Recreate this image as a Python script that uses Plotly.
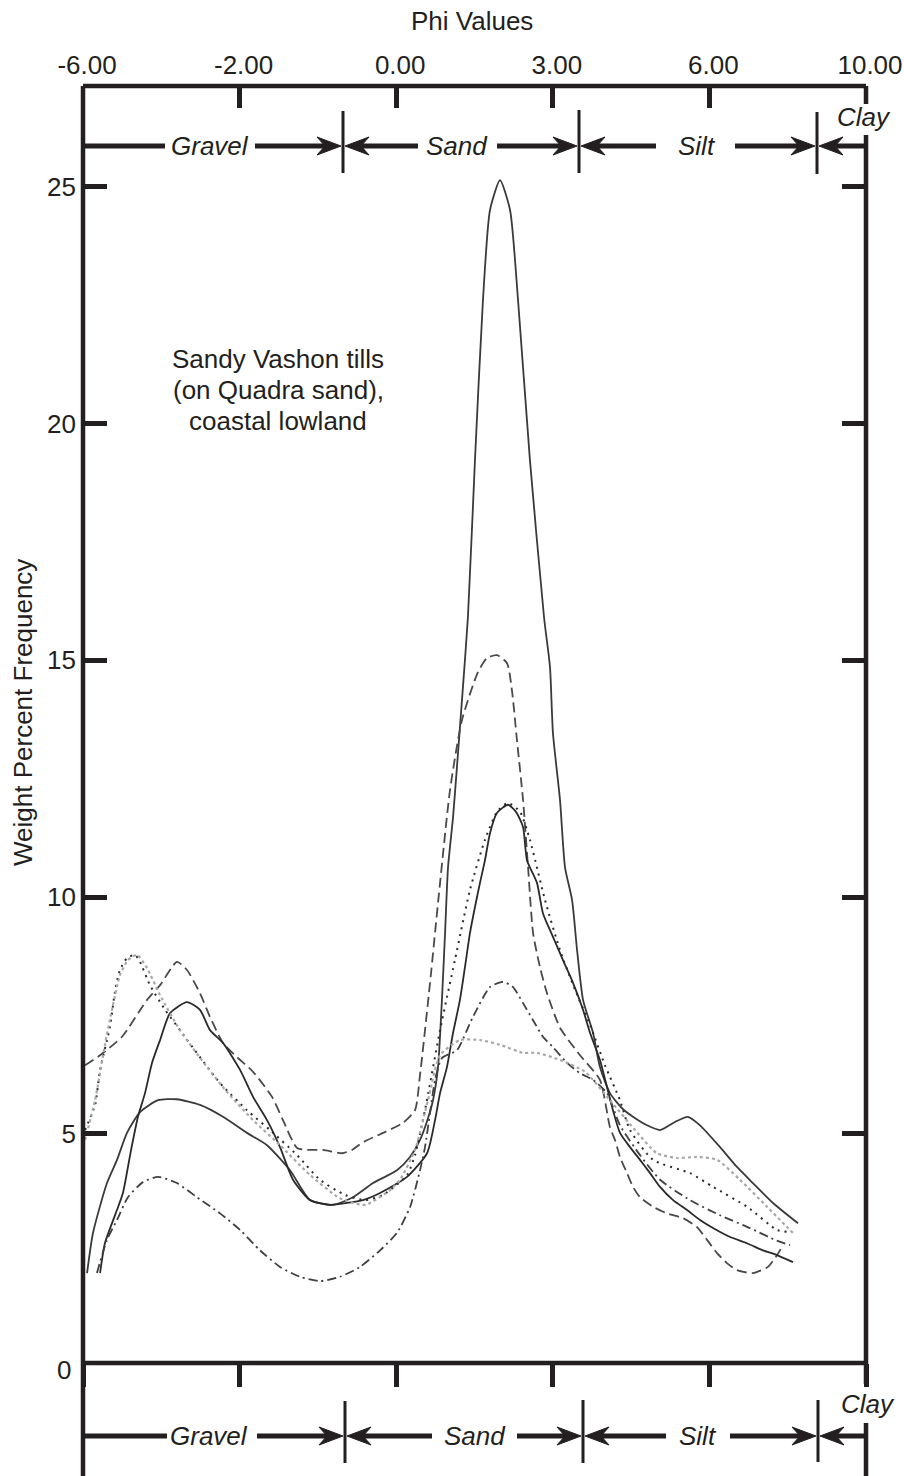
import plotly.graph_objects as go

# ---------------- data ----------------
phi_positions = [0, 1, 2, 3, 4, 5]
phi_labels = ["-6.00", "-2.00", "0.00", "3.00", "6.00", "10.00"]
freq_ticks = [5, 10, 15, 20, 25]
freq_labels = ["5", "10", "15", "20", "25"]

# x = position along the phi axis (one unit per labelled tick interval), y = weight percent
c1_x = [0.026, 0.064, 0.153, 0.217, 0.281, 0.364, 0.479, 0.600, 0.747, 0.894,
        1.047, 1.175, 1.322, 1.450, 1.596, 1.724, 1.852, 2.005, 2.088, 2.152,
        2.203, 2.235, 2.267, 2.292, 2.312, 2.331, 2.363, 2.388, 2.420, 2.458,
        2.503, 2.554, 2.599, 2.663, 2.727, 2.778, 2.854, 2.944, 2.982, 3.001,
        3.046, 3.078, 3.123, 3.155, 3.193, 3.257, 3.301, 3.365, 3.442, 3.512,
        3.602, 3.685, 3.780, 3.863, 3.940, 4.068, 4.176, 4.278, 4.406, 4.566]
c1_y = [2.06, 2.91, 3.96, 4.45, 5.02, 5.46, 5.71, 5.73, 5.61, 5.36,
        5.02, 4.76, 4.23, 3.60, 3.50, 3.66, 3.96, 4.23, 4.51, 4.87,
        5.33, 5.71, 6.41, 7.83, 9.24, 10.63, 11.69, 12.75, 14.16, 15.91,
        19.23, 22.61, 24.51, 25.14, 24.51, 22.61, 19.23, 15.91, 14.86, 13.46,
        12.05, 10.63, 9.94, 8.88, 7.83, 7.13, 6.41, 5.86, 5.54, 5.36,
        5.18, 5.08, 5.25, 5.36, 5.18, 4.72, 4.30, 3.96, 3.54, 3.11]

c2_x = [0.013, 0.109, 0.249, 0.409, 0.492, 0.600, 0.664, 0.747, 0.811, 0.894,
        0.983, 1.086, 1.207, 1.277, 1.367, 1.450, 1.533, 1.654, 1.718, 1.782,
        1.916, 2.043, 2.120, 2.152, 2.216, 2.280, 2.344, 2.420, 2.522, 2.580,
        2.644, 2.708, 2.739, 2.771, 2.810, 2.842, 2.874, 2.918, 2.963, 3.046,
        3.174, 3.301, 3.365, 3.397, 3.429, 3.474, 3.512, 3.557, 3.640, 3.729,
        3.831, 3.921, 3.985, 4.049, 4.112, 4.176, 4.278, 4.374, 4.432, 4.470]
c2_y = [6.45, 6.66, 7.05, 7.83, 8.14, 8.63, 8.46, 7.97, 7.47, 6.92,
        6.62, 6.31, 5.78, 5.29, 4.70, 4.66, 4.66, 4.59, 4.66, 4.81,
        5.02, 5.23, 5.50, 6.24, 8.19, 10.30, 12.27, 13.74, 14.75, 15.05,
        15.11, 14.94, 14.37, 13.32, 12.05, 10.63, 9.24, 8.52, 7.97, 7.24,
        6.66, 6.14, 5.14, 4.87, 4.51, 4.17, 3.88, 3.66, 3.46, 3.32,
        3.22, 3.03, 2.76, 2.48, 2.27, 2.12, 2.06, 2.19, 2.44, 2.65]

c3_x = [0.109, 0.140, 0.217, 0.255, 0.307, 0.351, 0.396, 0.441, 0.492, 0.556,
        0.664, 0.747, 0.811, 0.894, 1.003, 1.086, 1.175, 1.258, 1.341, 1.450,
        1.577, 1.686, 1.788, 1.897, 2.069, 2.197, 2.248, 2.280, 2.324, 2.363,
        2.407, 2.439, 2.471, 2.503, 2.535, 2.567, 2.599, 2.644, 2.714, 2.765,
        2.810, 2.835, 2.899, 2.937, 3.001, 3.065, 3.129, 3.193, 3.238, 3.301,
        3.346, 3.384, 3.429, 3.493, 3.557, 3.621, 3.685, 3.768, 3.857, 3.940,
        4.023, 4.132, 4.240, 4.342, 4.432, 4.534]
c3_y = [2.06, 2.69, 3.39, 3.75, 4.66, 5.36, 5.86, 6.50, 6.98, 7.55,
        7.78, 7.62, 7.19, 6.92, 6.35, 5.78, 5.29, 4.72, 4.03, 3.60,
        3.50, 3.54, 3.60, 3.75, 4.09, 4.59, 5.29, 5.86, 6.41, 7.13,
        7.83, 8.52, 9.24, 9.79, 10.30, 10.78, 11.35, 11.78, 11.95, 11.80,
        11.48, 10.78, 10.30, 9.66, 9.16, 8.67, 8.19, 7.62, 7.13, 6.56,
        5.99, 5.50, 5.02, 4.72, 4.45, 4.17, 3.88, 3.60, 3.39, 3.18,
        3.01, 2.82, 2.69, 2.54, 2.44, 2.29]

c4_x = [0.013, 0.077, 0.109, 0.172, 0.204, 0.236, 0.281, 0.332, 0.364, 0.428,
        0.524, 0.619, 0.747, 0.875, 1.047, 1.194, 1.367, 1.513, 1.673, 1.801,
        1.916, 2.069, 2.120, 2.184, 2.280, 2.375, 2.471, 2.567, 2.644, 2.714,
        2.791, 2.854, 2.950, 3.046, 3.142, 3.238, 3.333, 3.429, 3.493, 3.640,
        3.876, 4.023, 4.240, 4.432, 4.502]
c4_y = [5.08, 5.61, 6.35, 7.26, 8.00, 8.46, 8.71, 8.78, 8.63, 8.14,
        7.62, 7.19, 6.62, 6.07, 5.50, 5.08, 4.55, 4.03, 3.71, 3.60,
        3.71, 4.13, 4.55, 5.50, 7.19, 8.67, 10.15, 11.21, 11.80, 11.99,
        11.80, 11.21, 9.94, 8.88, 8.04, 7.30, 6.45, 5.71, 5.08, 4.45,
        4.17, 3.88, 3.46, 2.97, 2.93]

c5_x = [0.089, 0.153, 0.217, 0.287, 0.383, 0.479, 0.600, 0.728, 0.875, 1.003,
        1.130, 1.258, 1.386, 1.513, 1.641, 1.769, 1.897, 2.005, 2.088, 2.152,
        2.184, 2.216, 2.248, 2.292, 2.388, 2.490, 2.599, 2.682, 2.746, 2.810,
        2.874, 2.937, 3.001, 3.091, 3.174, 3.257, 3.346, 3.429, 3.557, 3.685,
        3.876, 4.068, 4.259, 4.419, 4.515]
c5_y = [2.06, 2.76, 3.18, 3.66, 3.98, 4.09, 3.96, 3.66, 3.32, 2.97,
        2.54, 2.19, 1.98, 1.89, 1.98, 2.19, 2.54, 2.91, 3.45, 4.23,
        4.72, 5.44, 6.14, 6.60, 6.77, 7.47, 8.10, 8.21, 8.10, 7.76,
        7.40, 7.05, 6.83, 6.50, 6.28, 6.14, 5.86, 5.18, 4.55, 4.03,
        3.60, 3.28, 3.01, 2.76, 2.65]

c6_x = [0.013, 0.077, 0.140, 0.185, 0.236, 0.287, 0.345, 0.409, 0.492, 0.619,
        0.792, 0.926, 1.086, 1.258, 1.450, 1.641, 1.801, 1.960, 2.024, 2.120,
        2.203, 2.280, 2.407, 2.535, 2.663, 2.810, 2.899, 3.046, 3.206, 3.365,
        3.525, 3.665, 3.793, 3.921, 4.049, 4.195, 4.368, 4.547]
c6_y = [4.87, 5.71, 6.88, 7.62, 8.35, 8.67, 8.78, 8.50, 7.93, 7.19,
        6.41, 5.86, 5.29, 4.76, 4.13, 3.64, 3.50, 3.81, 4.03, 4.66,
        5.71, 6.66, 6.98, 6.98, 6.88, 6.71, 6.71, 6.56, 6.31, 5.71,
        5.08, 4.59, 4.49, 4.51, 4.45, 4.03, 3.46, 2.86]

# ---------------- styling / layout ----------------
W, H = 904, 1476
PL, PR, PT, PB = 83, 866, 86, 1363
INK = "#231f20"
FONT = "Liberation Sans, Arial, Helvetica, sans-serif"
FS = 26


def px(x):
    return (x - PL) / (PR - PL)


def py(y):
    return (PB - y) / (PB - PT)


styles = [
    (c1_x, c1_y, dict(color="#3a3a3a", width=1.8, dash="solid")),
    (c2_x, c2_y, dict(color="#4a4a4a", width=1.8, dash="10px,5px")),
    (c3_x, c3_y, dict(color="#2a2a2a", width=1.8, dash="solid")),
    (c4_x, c4_y, dict(color="#2a2a2a", width=2.0, dash="2px,5px")),
    (c5_x, c5_y, dict(color="#404040", width=1.8, dash="9px,4px,2px,4px")),
    (c6_x, c6_y, dict(color="#a8a8a8", width=2.2, dash="3px,3px")),
]

fig = go.Figure()
for xs, ys, ln in styles:
    fig.add_trace(go.Scatter(x=xs, y=ys, mode="lines",
                             line=dict(shape="spline", smoothing=0.6, **ln),
                             showlegend=False, hoverinfo="skip"))
# helper trace so that the secondary (bottom / right) tick axes are drawn
fig.add_trace(go.Scatter(x=[None], y=[None], xaxis="x2", yaxis="y2",
                         mode="lines", showlegend=False, hoverinfo="skip"))

shapes = []


def seg(x0, y0, x1, y1, w=4.5):
    shapes.append(dict(type="line", xref="paper", yref="paper",
                       x0=px(x0), y0=py(y0), x1=px(x1), y1=py(y1),
                       line=dict(color=INK, width=w)))


def head(tip, y, d):
    L, hh, notch = 24, 9, 8
    bx = tip - d * L
    nx = tip - d * (L - notch)
    path = (f"M {px(tip)},{py(y)} L {px(bx)},{py(y - hh)} "
            f"L {px(nx)},{py(y)} L {px(bx)},{py(y + hh)} Z")
    shapes.append(dict(type="path", xref="paper", yref="paper", path=path,
                       fillcolor=INK, line=dict(color=INK, width=1)))


# frame
seg(PL, PT, PR, PT)
seg(PL, PT, PL, 1476)
seg(PL, PB, PR, PB)
seg(PR, PT, PR, 104)
seg(PR, 135, PR, 1384)
seg(PR, 1423, PR, 1476)

# top size-class bar
ya = 146
seg(PL, ya, 165, ya, 5); seg(255, ya, 326, ya, 5); head(341, ya, 1)
seg(343, 111, 343, 173, 3)
head(345, ya, -1); seg(362, ya, 418, ya, 5); seg(497, ya, 562, ya, 5); head(577, ya, 1)
seg(579, 110, 579, 173, 3)
head(581, ya, -1); seg(598, ya, 656, ya, 5); seg(735, ya, 800, ya, 5); head(815, ya, 1)
seg(817, 112, 817, 174, 3)
head(819, ya, -1); seg(836, ya, PR, ya, 5)

# bottom size-class bar
yb = 1436
seg(PL, yb, 167, yb, 5); seg(257, yb, 328, yb, 5); head(343, yb, 1)
seg(345, 1401, 345, 1463, 3)
head(347, yb, -1); seg(364, yb, 432, yb, 5); seg(517, yb, 566, yb, 5); head(581, yb, 1)
seg(583, 1400, 583, 1463, 3)
head(585, yb, -1); seg(602, yb, 666, yb, 5); seg(730, yb, 801, yb, 5); head(816, yb, 1)
seg(818, 1400, 818, 1462, 3)
head(820, yb, -1); seg(837, yb, PR, yb, 5)

annotations = []


def ann(text, x, y, size=FS, xanchor="center", angle=0):
    annotations.append(dict(text=text, xref="paper", yref="paper",
                            x=px(x), y=py(y), xanchor=xanchor, yanchor="middle",
                            showarrow=False, textangle=angle,
                            font=dict(family=FONT, size=size, color=INK)))


ann("Phi Values", 472, 21)
ann("Weight Percent Frequency", 23, 713, angle=-90)
ann("0", 73, 1370, xanchor="right")
ann("Sandy Vashon tills", 278, 359)
ann("(on Quadra sand),", 278, 390)
ann("coastal lowland", 278, 421)

for label, x, y in [("Gravel", 210, ya), ("Sand", 457, ya), ("Silt", 697, ya), ("Clay", 864, 117),
                    ("Gravel", 209, yb), ("Sand", 475, yb), ("Silt", 698, yb), ("Clay", 868, 1404)]:
    ann(f"<i>{label}</i>", x, y)

common = dict(showgrid=False, zeroline=False, showline=False, automargin=False,
              tickcolor=INK, tickwidth=4.5, tickmode="array")
yr = [0.16, 27.13]
fig.update_layout(
    width=W, height=H, autosize=False,
    margin=dict(l=PL, r=W - PR, t=PT, b=H - PB, pad=0, autoexpand=False),
    paper_bgcolor="white", plot_bgcolor="white", showlegend=False,
    xaxis=dict(range=[0, 5], side="top", tickvals=phi_positions, ticktext=phi_labels,
               ticks="inside", ticklen=22, ticklabeloverflow="allow",
               tickfont=dict(family=FONT, size=FS, color=INK), ticklabelstandoff=6,
               ticklabelshift=4, **common),
    xaxis2=dict(range=[0, 5], overlaying="x", side="bottom", anchor="y",
                tickvals=phi_positions, ticks="outside", ticklen=23,
                showticklabels=False, **common),
    yaxis=dict(range=yr, tickvals=freq_ticks, ticktext=freq_labels,
               ticks="inside", ticklen=24, ticklabeloverflow="allow",
               tickfont=dict(family=FONT, size=FS, color=INK), ticklabelstandoff=6,
               **common),
    yaxis2=dict(range=yr, overlaying="y", side="right", anchor="x",
                tickvals=freq_ticks, ticks="inside", ticklen=24,
                showticklabels=False, **common),
    shapes=shapes, annotations=annotations,
)

fig.write_html(
    "out.html",
    config={"responsive": False, "displayModeBar": False},
    post_script=("document.documentElement.style.overflow='hidden';"
                 "document.body.style.margin='0';"
                 "document.body.style.overflow='hidden';"),
)
